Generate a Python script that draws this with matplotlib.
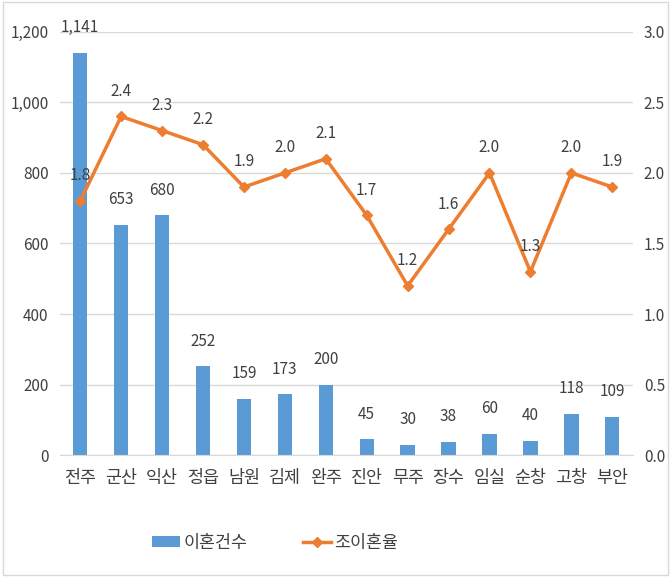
import matplotlib.pyplot as plt
import numpy as np

plt.rcParams['font.family'] = ['Noto Sans CJK KR', 'DejaVu Sans']

regions = ['전주', '군산', '익산', '정읍', '남원', '김제', '완주', '진안', '무주', '장수', '임실', '순창', '고창', '부안']
divorce_count = [1141, 653, 680, 252, 159, 173, 200, 45, 30, 38, 60, 40, 118, 109]
divorce_rate = [1.8, 2.4, 2.3, 2.2, 1.9, 2.0, 2.1, 1.7, 1.2, 1.6, 2.0, 1.3, 2.0, 1.9]

bar_color = '#5B9BD5'
line_color = '#ED7D31'
text_color = '#404040'

fig = plt.figure(figsize=(6.71, 5.77), dpi=100)
ax = fig.add_axes([0.089, 0.211, 0.854, 0.734])
ax2 = ax.twinx()

x = np.arange(len(regions))
bars = ax.bar(x, divorce_count, 0.35, color=bar_color, label='이혼건수', zorder=2)
line, = ax2.plot(x, divorce_rate, color=line_color, lw=2.5, marker='D', ms=5, label='조이혼율', zorder=3)

ax.set_ylim(0, 1200)
ax.set_yticks(range(0, 1201, 200))
ax.set_yticklabels([f'{v:,}' for v in range(0, 1201, 200)])
ax2.set_ylim(0, 3.0)
ax2.set_yticks(np.arange(0, 3.01, 0.5))
ax2.set_yticklabels([f'{v:.1f}' for v in np.arange(0, 3.01, 0.5)])
ax.set_xlim(-0.5, len(regions) - 0.5)
ax.set_xticks(x)
ax.set_xticklabels(regions)

ax.yaxis.grid(True, color='#D9D9D9', lw=1, zorder=0)
ax.set_axisbelow(True)
for a in (ax, ax2):
    for s in a.spines.values():
        s.set_visible(False)
    a.tick_params(length=0, colors=text_color, labelsize=11)
ax.spines['bottom'].set_visible(True)
ax.spines['bottom'].set_color('#D9D9D9')
ax.tick_params(axis='x', labelsize=12.5, pad=10)
ax.tick_params(axis='y', pad=8)
ax2.tick_params(axis='y', pad=8)

for xi, v in zip(x, divorce_count):
    ax.annotate(f'{v:,}', (xi, v), xytext=(0, 12), textcoords='offset points',
                ha='center', va='bottom', fontsize=11, color=text_color)
for xi, v in zip(x, divorce_rate):
    ax2.annotate(f'{v:.1f}', (xi, v), xytext=(0, 12), textcoords='offset points',
                 ha='center', va='bottom', fontsize=11, color=text_color)

fig.legend(handles=[bars, line], loc='center', bbox_to_anchor=(0.41, 0.059), ncol=2,
           frameon=False, fontsize=12.5, columnspacing=3.2, handlelength=1.6, handleheight=0.6,
           handletextpad=0.2, labelcolor=text_color)

fig.patches.append(plt.Rectangle((0.004, 0.004), 0.992, 0.992, transform=fig.transFigure,
                                 fill=False, edgecolor='#D9D9D9', lw=1))

fig.savefig('out.png', dpi=100)
